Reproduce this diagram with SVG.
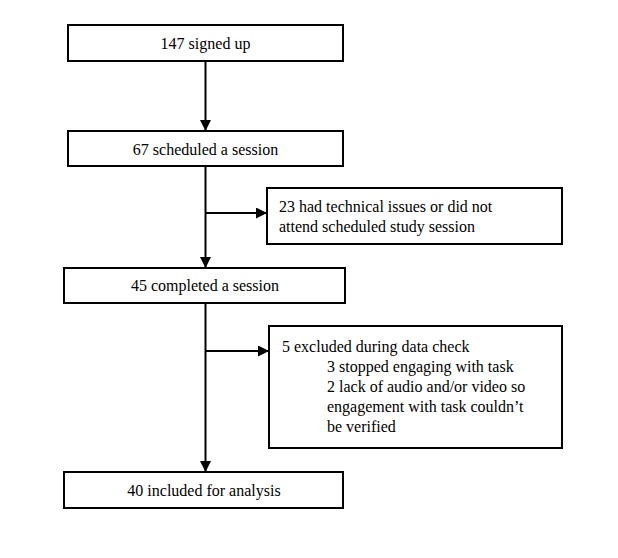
<svg xmlns="http://www.w3.org/2000/svg" width="618" height="558" viewBox="0 0 618 558">
<defs>
<style>
.box{fill:#fff;stroke:#000;stroke-width:2}
.c{text-anchor:middle}
.ln{stroke:#000;stroke-width:2;fill:none}
</style>
<marker id="ah" viewBox="0 0 10 10" refX="10" refY="5" markerWidth="11" markerHeight="11" markerUnits="userSpaceOnUse" orient="auto">
<path d="M0,0 L10,5 L0,10 Z" fill="#000"/>
</marker>
</defs>
<rect width="618" height="558" fill="#fff"/>
<g id="connectors">
<line class="ln" x1="205.5" y1="61" x2="205.5" y2="131" marker-end="url(#ah)"/>
<line class="ln" x1="205.5" y1="166" x2="205.5" y2="268" marker-end="url(#ah)"/>
<line class="ln" x1="205.5" y1="213" x2="267" y2="213" marker-end="url(#ah)"/>
<line class="ln" x1="205.5" y1="303" x2="205.5" y2="472" marker-end="url(#ah)"/>
<line class="ln" x1="205.5" y1="351" x2="269" y2="351" marker-end="url(#ah)"/>
</g>
<g font-family="Liberation Serif, DejaVu Serif, serif" font-size="16" fill="#000">
<g id="n1">
<rect class="box" x="68" y="25" width="275" height="36"/>
<text class="c" x="205.5" y="49">147 signed up</text>
</g>
<g id="n2">
<rect class="box" x="68" y="131" width="275" height="35"/>
<text class="c" x="205.5" y="155">67 scheduled a session</text>
</g>
<g id="n3">
<rect class="box" x="267" y="188" width="295" height="56"/>
<text x="279" y="212">23 had technical issues or did not</text>
<text x="279" y="232">attend scheduled study session</text>
</g>
<g id="n4">
<rect class="box" x="64" y="268" width="281" height="35"/>
<text class="c" x="205" y="291">45 completed a session</text>
</g>
<g id="n5">
<rect class="box" x="269" y="326" width="293" height="122"/>
<text x="282" y="352">5 excluded during data check</text>
<text x="327" y="372">3 stopped engaging with task</text>
<text x="327" y="392">2 lack of audio and/or video so</text>
<text x="327" y="412">engagement with task couldn’t</text>
<text x="327" y="432">be verified</text>
</g>
<g id="n6">
<rect class="box" x="64" y="472" width="279" height="36"/>
<text class="c" x="204" y="496">40 included for analysis</text>
</g>
</g>
</svg>
